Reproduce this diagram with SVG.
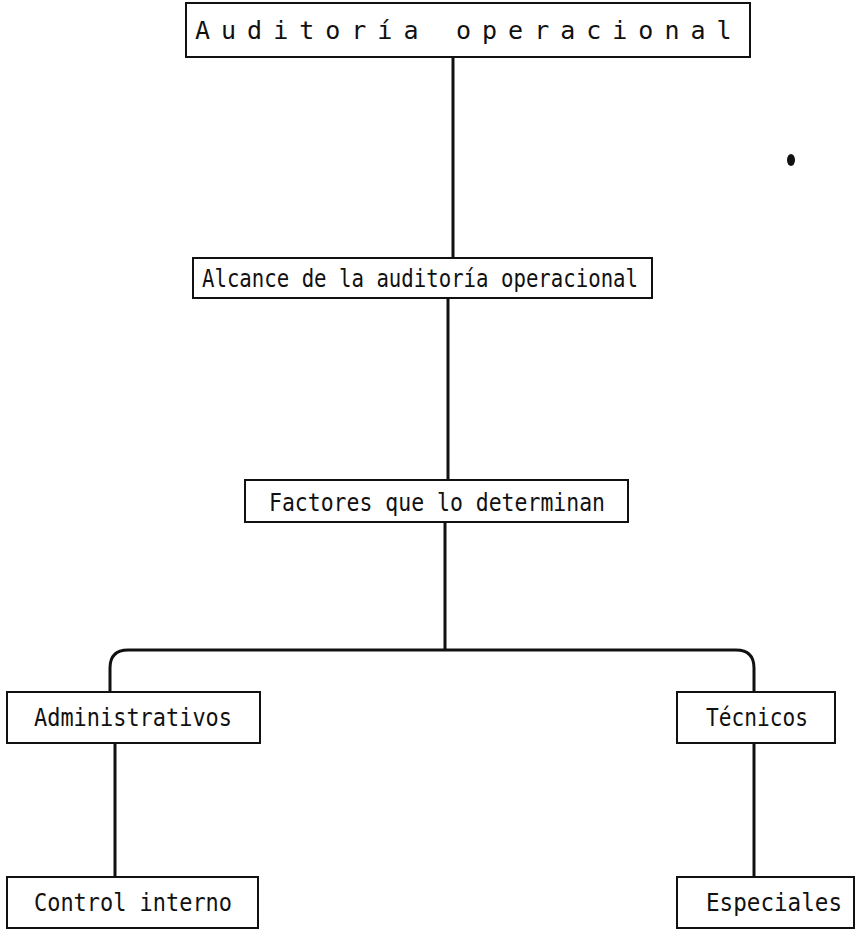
<svg xmlns="http://www.w3.org/2000/svg" width="859" height="930" viewBox="0 0 859 930">
  <style>
    .box { fill: #fff; stroke: #111; stroke-width: 2; }
    .lbl { font-family: "DejaVu Sans Mono", "Liberation Mono", monospace; font-size: 25px; fill: #111; text-anchor: middle; }
    .title { font-family: "DejaVu Sans Mono", "Liberation Mono", monospace; font-size: 25px; fill: #111; letter-spacing: 11px; }
    .wire { fill: none; stroke: #111; stroke-width: 3; stroke-linejoin: round; }
  </style>
  <rect width="859" height="930" fill="#fff"/>

  <!-- connectors -->
  <g id="connectors">
    <path class="wire" d="M453 57 V258"/>
    <path class="wire" d="M448 298 V480"/>
    <path class="wire" d="M445 522 V650"/>
    <path class="wire" d="M110 692 V668 Q110 650 128 650 H736 Q754 650 754 668 V692"/>
    <path class="wire" d="M115 743 V877"/>
    <path class="wire" d="M754 743 V877"/>
  </g>

  <!-- ink spot -->
  <ellipse cx="791" cy="160" rx="4" ry="6" fill="#111"/>

  <g id="auditoria">
    <rect class="box" x="186" y="3" width="564" height="54"/>
    <text class="title" x="195" y="39">Auditoría</text>
    <text class="title" x="456" y="39">operacional</text>
  </g>

  <g id="alcance">
    <rect class="box" x="193" y="258" width="459" height="40"/>
    <text class="lbl" x="420" y="287" textLength="436" lengthAdjust="spacingAndGlyphs">Alcance de la auditoría operacional</text>
  </g>

  <g id="factores">
    <rect class="box" x="245" y="480" width="383" height="42"/>
    <text class="lbl" x="437" y="511" textLength="336" lengthAdjust="spacingAndGlyphs">Factores que lo determinan</text>
  </g>

  <g id="administrativos">
    <rect class="box" x="7" y="692" width="253" height="51"/>
    <text class="lbl" x="133" y="726" textLength="198" lengthAdjust="spacingAndGlyphs">Administrativos</text>
  </g>

  <g id="tecnicos">
    <rect class="box" x="677" y="692" width="158" height="51"/>
    <text class="lbl" x="757" y="726" textLength="102" lengthAdjust="spacingAndGlyphs">Técnicos</text>
  </g>

  <g id="control-interno">
    <rect class="box" x="7" y="877" width="251" height="51"/>
    <text class="lbl" x="133" y="911" textLength="198" lengthAdjust="spacingAndGlyphs">Control interno</text>
  </g>

  <g id="especiales">
    <rect class="box" x="677" y="877" width="177" height="51"/>
    <text class="lbl" x="774" y="911" textLength="136" lengthAdjust="spacingAndGlyphs">Especiales</text>
  </g>
</svg>
